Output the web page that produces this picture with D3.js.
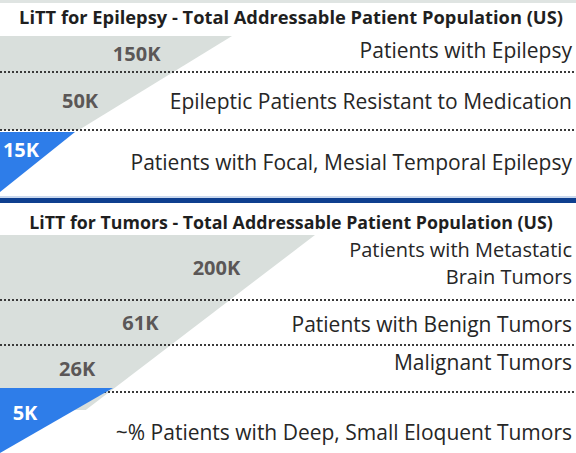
<!DOCTYPE html>
<html>
<head>
<meta charset="utf-8">
<script src="https://cdn.jsdelivr.net/npm/d3@7"></script>
<style>
  body { margin: 0; background: #fff; }
  svg { display: block; font-family: "Open Sans", sans-serif; }
</style>
</head>
<body>
<div id="chart"></div>
<script>
// Funnel panels: LiTT addressable patient population
const titles = [
  "LiTT for Epilepsy - Total Addressable Patient Population (US)",
  "LiTT for Tumors - Total Addressable Patient Population (US)"
];
const epilepsyValues = ["150K", "50K", "15K"];
const epilepsyLabels = [
  ["Patients with Epilepsy"],
  ["Epileptic Patients Resistant to Medication"],
  ["Patients with Focal, Mesial Temporal Epilepsy"]
];
const tumorValues = ["200K", "61K", "26K", "5K"];
const tumorLabels = [
  ["Patients with Metastatic", "Brain Tumors"],
  ["Patients with Benign Tumors"],
  ["Malignant Tumors"],
  ["~% Patients with Deep, Small Eloquent Tumors"]
];

const W = 576, H = 453;
const svg = d3.select("#chart").append("svg").attr("width", W).attr("height", H);

// layout for each panel (pixel geometry, kept apart from the data)
const layout = [
  {titleY: 24, titleSize: 18.3, top: 36, rows: [36, 58, 62], grayW: 232, graySlope: 1.63,
   blueW: 75, blueShift: 2, blueBottom: 192, lastX: 21, lastLabelShift: -11,
   valOffset: [66, 46], textShift: [-4, 0, 1]},
  {titleY: 229, titleSize: 17.8, top: 235, rows: [65, 45, 47, 61], grayW: 315, graySlope: 1.31, grayEnd: 410,
   blueW: 113, blueShift: -4, blueBottom: 453, lastX: 25, lastLabelShift: -10,
   valOffset: [56, 60, 63], textShift: [-5, 2, -6, 10]}
];

const panels = [
  {title: titles[0], values: epilepsyValues, labels: epilepsyLabels, L: layout[0]},
  {title: titles[1], values: tumorValues, labels: tumorLabels, L: layout[1]}
];

// faint strip at the very top and the navy divider
svg.append("rect").attr("x", 0).attr("y", 0).attr("width", W).attr("height", 3).attr("fill", "#dfe4e2");
svg.append("rect").attr("x", 0).attr("y", 198).attr("width", W).attr("height", 5).attr("fill", "#0e3f8f");
svg.append("rect").attr("x", 0).attr("y", 196).attr("width", W).attr("height", 2).attr("fill", "#c9d8ee");

panels.forEach(p => {
  const L = p.L;
  const bounds = [L.top, ...Array.from(d3.cumsum(L.rows), v => L.top + v)];
  const n = p.values.length;
  const lastTop = bounds[n - 1];
  const grayEnd = L.grayEnd || lastTop;

  // edge of the gray funnel as a function of y
  const edge = d3.scaleLinear().domain([L.top, L.top + 100]).range([L.grayW, L.grayW - 100 * L.graySlope]);
  const blueEdge = d3.scaleLinear().domain([lastTop + L.blueShift, L.blueBottom]).range([L.blueW, 0]);

  const g = svg.append("g");

  g.append("text").attr("x", W / 2 + 3).attr("y", L.titleY)
    .attr("text-anchor", "middle").attr("font-weight", 700).attr("font-size", L.titleSize)
    .attr("fill", "#1f1f1f").text(p.title);

  const line = d3.line();
  g.append("path")
    .attr("d", line([[0, L.top], [edge(L.top), L.top], [edge(grayEnd), grayEnd], [0, grayEnd]]) + "Z")
    .attr("fill", "#d9dfdc");

  // dotted separators
  g.selectAll("line.sep").data(bounds.slice(1, n)).join("line")
    .attr("class", "sep")
    .attr("x1", 0).attr("x2", W).attr("y1", d => d).attr("y2", d => d)
    .attr("stroke", "#3a3a3a").attr("stroke-width", 2).attr("stroke-dasharray", "2,2");

  const by = lastTop + L.blueShift;
  g.append("path")
    .attr("d", line([[0, by], [blueEdge(by), by], [blueEdge(L.blueBottom), L.blueBottom]]) + "Z")
    .attr("fill", "#2e7de9");

  // value labels
  g.selectAll("text.val").data(p.values).join("text")
    .attr("class", "val")
    .attr("x", (d, i) => i === n - 1 ? L.lastX : edge((bounds[i] + bounds[i + 1]) / 2) - L.valOffset[i])
    .attr("y", (d, i) => (bounds[i] + bounds[i + 1]) / 2 + (i === n - 1 ? L.lastLabelShift : 0) + 7)
    .attr("text-anchor", "middle").attr("font-weight", 700).attr("font-size", 20)
    .attr("fill", (d, i) => i === n - 1 ? "#fff" : "#5b5757")
    .text(d => d);

  // row descriptions, right aligned
  p.labels.forEach((lines, i) => {
    const mid = (bounds[i] + bounds[i + 1]) / 2 + L.textShift[i];
    const multi = lines.length > 1;
    lines.forEach((s, k) => {
      g.append("text").attr("text-anchor", "end").attr("font-size", multi ? 20 : 21).attr("fill", "#262626")
        .attr("x", 572)
        .attr("y", mid + 7.5 + (k - (lines.length - 1) / 2) * 27).text(s);
    });
  });
});
</script>
</body>
</html>
